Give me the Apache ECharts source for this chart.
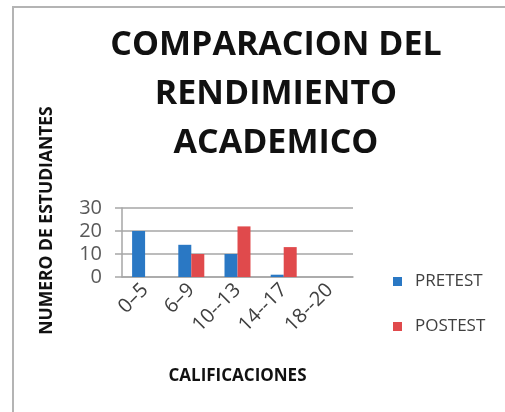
<!DOCTYPE html>
<html>
<head>
<meta charset="utf-8">
<script src="https://cdn.jsdelivr.net/npm/echarts@6/dist/echarts.min.js"></script>
<style>
  html, body { margin: 0; padding: 0; background: #fff; }
  #frame {
    position: absolute; left: 12px; top: 6px; width: 493px; height: 406px;
    border-left: 2px solid #b4b4b4; border-top: 2px solid #b4b4b4;
  }
  #chart { position: absolute; left: 0; top: 0; width: 505px; height: 412px; }
</style>
</head>
<body>
<div id="frame"></div>
<div id="chart"></div>
<script>
// data
const categories = ['0–5', '6–9', '10--13', '14--17', '18--20'];
const pretest = [20, 14, 10, 1, 0];
const postest = [0, 10, 22, 13, 0];
const yMin = 0;
const yMax = 30;
const yStep = 10;

const FONT = '"Open Sans", "Noto Sans", sans-serif';

const chart = echarts.init(document.getElementById('chart'), null, { renderer: 'canvas' });

chart.setOption({
  backgroundColor: 'transparent',
  animation: false,
  title: {
    text: 'COMPARACION DEL\nRENDIMIENTO\nACADEMICO',
    left: 276,
    top: 21,
    padding: 0,
    textAlign: 'center',
    textStyle: {
      fontFamily: FONT,
      fontWeight: 'bold',
      fontSize: 34,
      lineHeight: 49,
      color: '#111',
    },
  },
  legend: {
    orient: 'vertical',
    left: 388,
    top: 268,
    itemWidth: 9,
    itemHeight: 9,
    itemGap: 28,
    icon: 'rect',
    textStyle: { fontFamily: FONT, fontSize: 17, color: '#404040', padding: [0, 0, 0, 8] },
    data: ['PRETEST', 'POSTEST'],
  },
  grid: { left: 122, right: 152, top: 208, bottom: 135 },
  xAxis: {
    type: 'category',
    data: categories,
    name: 'CALIFICACIONES',
    nameLocation: 'middle',
    nameGap: 91,
    nameTextStyle: { fontFamily: FONT, fontWeight: 'bold', fontSize: 17, color: '#111' },
    axisLine: { lineStyle: { color: '#a6a6a6', width: 1.5 } },
    axisTick: { show: false },
    axisLabel: {
      rotate: 45,
      margin: 10,
      interval: 0,
      fontFamily: FONT,
      fontSize: 20,
      color: '#404040',
    },
  },
  yAxis: {
    type: 'value',
    min: yMin,
    max: yMax,
    interval: yStep,
    name: 'NUMERO DE ESTUDIANTES',
    nameLocation: 'middle',
    nameGap: 66,
    nameRotate: 90,
    nameTextStyle: {
      fontFamily: FONT, fontWeight: 'bold', fontSize: 17.5, color: '#111',
      padding: [0, 0, 0, 44],
    },
    axisLine: { show: true, lineStyle: { color: '#a6a6a6', width: 1.5 } },
    axisTick: { show: true, length: 7, lineStyle: { color: '#a6a6a6', width: 1.5 } },
    splitLine: { lineStyle: { color: '#a6a6a6', width: 1.5 } },
    axisLabel: { margin: 20, fontFamily: FONT, fontSize: 20, color: '#595959' },
  },
  series: [
    {
      name: 'PRETEST',
      type: 'bar',
      data: pretest,
      barWidth: 13,
      barGap: '0%',
      itemStyle: { color: '#2a78c4' },
    },
    {
      name: 'POSTEST',
      type: 'bar',
      data: postest,
      barWidth: 13,
      itemStyle: { color: '#e04a4c' },
    },
  ],
});
</script>
</body>
</html>
